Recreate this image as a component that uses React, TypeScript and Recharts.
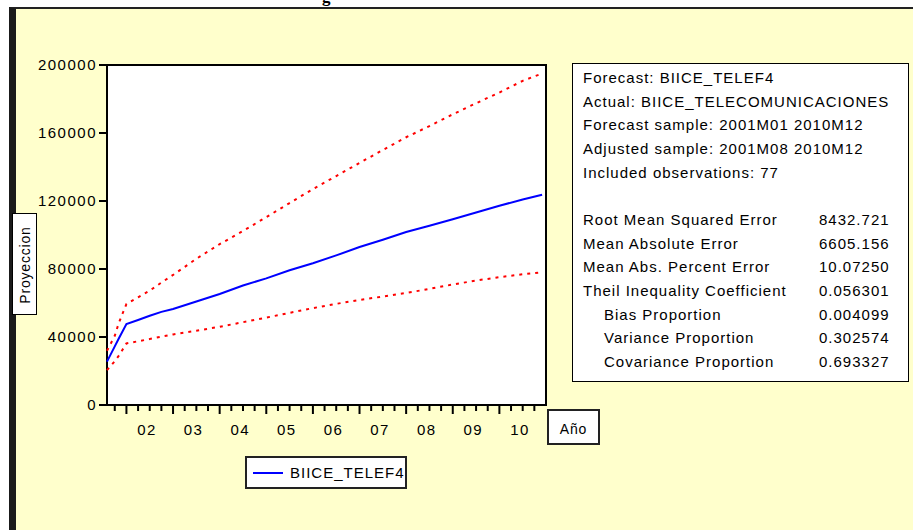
import * as React from "react";
import {
  LineChart,
  Line,
  XAxis,
  YAxis,
  CartesianGrid,
  ReferenceArea,
  Legend,
} from "recharts";

// forecast output, monthly periods
const periods = [
  "2001M08", "2001M10", "2001M11", "2002M01", "2002M04", "2002M07",
  "2002M10", "2003M01", "2003M07", "2004M01", "2004M07", "2005M01",
  "2005M07", "2006M01", "2006M07", "2007M01", "2007M07", "2008M01",
  "2008M07", "2009M01", "2009M07", "2010M01", "2010M07", "2010M12",
];
const forecast = [
  25500, 34500, 39000, 47600, 50000, 52500, 54800, 56500, 60900, 65300,
  70300, 74500, 79300, 83400, 88000, 92900, 97200, 101800, 105400, 109300,
  113200, 117200, 120900, 123700,
];
const upperBand = [
  31900, 40700, 48000, 59400, 63300, 67300, 72000, 76500, 86000, 94600,
  102400, 110500, 118800, 127000, 134700, 142400, 150000, 157500, 164100,
  171000, 177500, 183800, 190700, 195000,
];
const lowerBand = [
  20500, 25800, 28900, 36200, 37500, 38800, 40200, 41500, 43700, 46000,
  48700, 51400, 54200, 57000, 59500, 61800, 63800, 65900, 68300, 70900,
  73200, 75200, 76900, 78000,
];
const yTicks = [0, 40000, 80000, 120000, 160000, 200000];
const yearLabels = ["02", "03", "04", "05", "06", "07", "08", "09", "10"];

const statsHeader = [
  "Forecast: BIICE_TELEF4",
  "Actual: BIICE_TELECOMUNICACIONES",
  "Forecast sample: 2001M01 2010M12",
  "Adjusted sample: 2001M08 2010M12",
  "Included observations: 77",
];
const statNames = [
  "Root Mean Squared Error",
  "Mean Absolute Error",
  "Mean Abs. Percent Error",
  "Theil Inequality Coefficient",
  "Bias Proportion",
  "Variance Proportion",
  "Covariance Proportion",
];
const statValues = [
  "8432.721",
  "6605.156",
  "10.07250",
  "0.056301",
  "0.004099",
  "0.302574",
  "0.693327",
];
const statIndented = [false, false, false, false, true, true, true];

// month index counted from 2001M08
const toIndex = (p: string) => {
  const y = parseInt(p.slice(0, 4), 10);
  const m = parseInt(p.slice(5), 10);
  return (y - 2001) * 12 + m - 8;
};

const data = periods.map((p, i) => ({
  m: toIndex(p),
  fc: forecast[i],
  up: upperBand[i],
  lo: lowerBand[i],
}));

// quarterly tick marks + year labels centred in each year
const quarterTicks: number[] = [];
for (let t = 2; t <= 110; t += 3) quarterTicks.push(t);
const labelAt: Record<string, string> = {};
yearLabels.forEach((lab, k) => {
  labelAt[String(5 + 12 * k + 5.3)] = lab;
});
const xTicks = [...quarterTicks, ...Object.keys(labelAt).map(Number)];

const FONT = "'Liberation Sans', Arial, sans-serif";

const XTick = (props: any) => {
  const { x, y, payload } = props;
  const v = payload.value;
  const lab = labelAt[String(v)];
  if (lab) {
    return (
      <text
        x={x}
        y={y + 30}
        textAnchor="middle"
        fill="#000"
        fontSize={15}
        fontFamily={FONT}
        letterSpacing={1.5}
      >
        {lab}
      </text>
    );
  }
  const isYear = (v - 5) % 12 === 0;
  return (
    <line
      x1={x}
      y1={y}
      x2={x}
      y2={y + (isYear ? 9 : 6)}
      stroke="#000"
      strokeWidth={2}
    />
  );
};

const LegendBox = (props: any) => {
  const items = (props.payload || []).filter((p: any) => p.type !== "none");
  return (
    <div
      style={{
        width: 162,
        height: 33,
        boxSizing: "border-box",
        border: "2px solid #222",
        background: "#fff",
        display: "flex",
        alignItems: "center",
        fontFamily: FONT,
        fontSize: 15,
        letterSpacing: 1,
        color: "#000",
      }}
    >
      {items.map((p: any) => (
        <React.Fragment key={p.value}>
          <span
            style={{
              display: "inline-block",
              width: 30,
              height: 2,
              background: p.color,
              marginLeft: 6,
              marginRight: 7,
            }}
          />
          <span>{p.value}</span>
        </React.Fragment>
      ))}
    </div>
  );
};

export default function App() {
  return (
    <div
      style={{
        position: "fixed",
        left: 0,
        top: 0,
        width: 913,
        height: 530,
        background: "#fff",
        overflow: "hidden",
      }}
    >
      {/* clipped title from the page above */}
      <div
        style={{
          position: "absolute",
          left: 0,
          top: 0,
          width: 913,
          height: 7,
          overflow: "hidden",
        }}
      >
        <div
          style={{
            position: "absolute",
            left: 322,
            top: -13,
            fontFamily: "'Liberation Serif', serif",
            fontWeight: "bold",
            fontSize: 17,
          }}
        >
          g
        </div>
      </div>
      <div
        style={{
          position: "absolute",
          left: 9,
          top: 7,
          width: 904,
          height: 523,
          boxSizing: "border-box",
          background: "#FFFFCC",
          borderTop: "2px solid #222",
          borderLeft: "7px solid #1a1a1a",
        }}
      />

      <LineChart
        width={913}
        height={530}
        data={data}
        margin={{ top: 65, left: 47, right: 367, bottom: 95 }}
        style={{ position: "absolute", left: 0, top: 0 }}
      >
        <CartesianGrid fill="#fff" horizontal={false} vertical={false} />
        <XAxis
          dataKey="m"
          type="number"
          domain={[0, 113]}
          ticks={xTicks}
          interval={0}
          tick={<XTick />}
          tickLine={false}
          axisLine={false}
          tickSize={0}
          tickMargin={0}
          height={30}
        />
        <YAxis
          type="number"
          domain={[0, 200000]}
          ticks={yTicks}
          interval={0}
          width={60}
          axisLine={false}
          tickSize={8}
          tickMargin={2}
          tickLine={{ stroke: "#000", strokeWidth: 2 }}
          tick={{
            fill: "#000",
            fontSize: 15,
            fontFamily: FONT,
            letterSpacing: 1.5,
          }}
        />
        <Line
          dataKey="up"
          stroke="#FF0000"
          strokeWidth={2}
          strokeDasharray="3 5"
          dot={false}
          activeDot={false}
          legendType="none"
          isAnimationActive={false}
        />
        <Line
          dataKey="lo"
          stroke="#FF0000"
          strokeWidth={2}
          strokeDasharray="3 5"
          dot={false}
          activeDot={false}
          legendType="none"
          isAnimationActive={false}
        />
        <Line
          dataKey="fc"
          name="BIICE_TELEF4"
          stroke="#0000FF"
          strokeWidth={2}
          dot={false}
          activeDot={false}
          isAnimationActive={false}
        />
        <ReferenceArea
          x1={0}
          x2={113}
          y1={0}
          y2={200000}
          fill="none"
          stroke="#000"
          strokeWidth={2}
        />
        <Legend
          layout="vertical"
          align="center"
          verticalAlign="middle"
          content={<LegendBox />}
          wrapperStyle={{ left: 245, top: 456, width: 162, height: 33 }}
        />
      </LineChart>

      {/* axis title boxes */}
      <div
        style={{
          position: "absolute",
          left: 12,
          top: 213,
          width: 25,
          height: 102,
          boxSizing: "border-box",
          border: "1px solid #000",
          background: "#fff",
        }}
      >
        <div
          style={{
            position: "absolute",
            left: 12,
            top: 51,
            transform: "translate(-50%, -50%) rotate(-90deg)",
            fontFamily: FONT,
            fontSize: 14,
            letterSpacing: 0.8,
            whiteSpace: "nowrap",
          }}
        >
          Proyeccion
        </div>
      </div>
      <div
        style={{
          position: "absolute",
          left: 547,
          top: 409,
          width: 53,
          height: 36,
          boxSizing: "border-box",
          border: "2px solid #222",
          background: "#fff",
          fontFamily: FONT,
          fontSize: 14,
          letterSpacing: 0.8,
          display: "flex",
          alignItems: "center",
          justifyContent: "center",
          paddingTop: 4,
        }}
      >
        Año
      </div>

      {/* forecast evaluation box */}
      <div
        style={{
          position: "absolute",
          left: 572,
          top: 63,
          width: 337,
          height: 319,
          boxSizing: "border-box",
          border: "1px solid #000",
          background: "#fff",
          fontFamily: FONT,
          fontSize: 15,
          letterSpacing: 1,
          color: "#000",
          lineHeight: "23.67px",
          paddingTop: 2,
        }}
      >
        {statsHeader.map((t) => (
          <div key={t} style={{ marginLeft: 10, whiteSpace: "nowrap" }}>
            {t}
          </div>
        ))}
        <div style={{ height: 23.67 }} />
        {statNames.map((t, i) => (
          <div
            key={t}
            style={{ position: "relative", height: 23.67, whiteSpace: "nowrap" }}
          >
            <span
              style={{
                position: "absolute",
                left: statIndented[i] ? 31 : 10,
              }}
            >
              {t}
            </span>
            <span style={{ position: "absolute", left: 246 }}>
              {statValues[i]}
            </span>
          </div>
        ))}
      </div>
    </div>
  );
}
